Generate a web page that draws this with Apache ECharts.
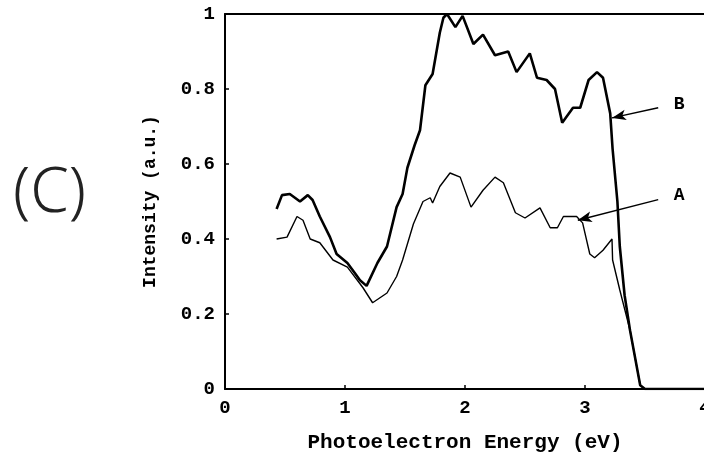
<!DOCTYPE html>
<html>
<head>
<meta charset="utf-8">
<script src="https://cdn.jsdelivr.net/npm/echarts@6/dist/echarts.min.js"></script>
<style>
  html, body { margin: 0; padding: 0; background: #fff; }
  #main { width: 704px; height: 462px; }
</style>
</head>
<body>
<div id="main"></div>
<script>
// energy (eV) / intensity pairs
var curveBx = [0.43, 0.475, 0.54, 0.625, 0.69, 0.73, 0.79, 0.875, 0.93, 1.02, 1.08, 1.125, 1.18, 1.27, 1.35, 1.43, 1.48, 1.52, 1.58, 1.625, 1.67, 1.73, 1.79, 1.82, 1.85, 1.92, 1.98, 2.07, 2.15, 2.25, 2.36, 2.43, 2.54, 2.6, 2.68, 2.75, 2.81, 2.9, 2.96, 3.03, 3.1, 3.15, 3.21, 3.23, 3.27, 3.29, 3.33, 3.375, 3.46, 3.5, 4.0]
var curveBy = [0.48, 0.517, 0.52, 0.5, 0.517, 0.504, 0.46, 0.405, 0.36, 0.336, 0.31, 0.29, 0.275, 0.336, 0.38, 0.485, 0.52, 0.59, 0.65, 0.69, 0.81, 0.84, 0.95, 0.99, 1.0, 0.965, 0.995, 0.92, 0.945, 0.89, 0.9, 0.845, 0.895, 0.83, 0.824, 0.8, 0.71, 0.75, 0.75, 0.824, 0.845, 0.83, 0.735, 0.64, 0.5, 0.38, 0.25, 0.157, 0.01, 0, 0]

var curveAx = [0.43, 0.517, 0.6, 0.65, 0.71, 0.79, 0.9, 1.02, 1.15, 1.23, 1.35, 1.43, 1.48, 1.57, 1.65, 1.71, 1.73, 1.79, 1.875, 1.96, 2.05, 2.15, 2.25, 2.32, 2.42, 2.5, 2.625, 2.71, 2.77, 2.82, 2.93, 2.98, 3.04, 3.08, 3.15, 3.225, 3.23, 3.29, 3.375, 3.46, 3.5]
var curveAy = [0.4, 0.405, 0.46, 0.45, 0.4, 0.39, 0.344, 0.325, 0.27, 0.23, 0.256, 0.3, 0.344, 0.44, 0.5, 0.51, 0.496, 0.54, 0.576, 0.565, 0.485, 0.53, 0.565, 0.55, 0.47, 0.456, 0.483, 0.43, 0.43, 0.46, 0.46, 0.443, 0.36, 0.35, 0.37, 0.4, 0.344, 0.264, 0.157, 0.01, 0]

var xTicks = [0, 1, 2, 3, 4]
var yTicks = [0, 0.2, 0.4, 0.6, 0.8, 1]

// arrow start/end points for the A and B labels
var arrowB = [[3.61, 0.75], [3.225, 0.723]]
var arrowA = [[3.61, 0.505], [2.94, 0.45]]

function pairs(xs, ys) {
  return xs.map(function (x, i) { return [x, ys[i]] })
}

var font = 'Liberation Mono'
var myChart = echarts.init(document.getElementById('main'), null, { renderer: 'canvas' })

function arrow(pts, name) {
  return {
    silent: true,
    symbol: ['none', 'arrow'],
    symbolSize: [8, 14],
    lineStyle: { color: '#000', width: 1.5, type: 'solid' },
    label: {
      show: true,
      position: 'start',
      formatter: name,
      color: '#000',
      fontFamily: font,
      fontWeight: 'bold',
      fontSize: 18,
      distance: 16
    },
    data: [[{ coord: pts[0] }, { coord: pts[1] }]]
  }
}

myChart.setOption({
  animation: false,
  backgroundColor: '#fff',
  grid: { left: 225, top: 14, width: 480, height: 375, containLabel: false, outerBoundsMode: 'none' },
  graphic: [{
    type: 'text',
    left: 13,
    top: 163,
    style: { text: '(C)', fontFamily: 'Noto Sans', fontWeight: 300, fontSize: 62, fill: '#222' }
  }],
  xAxis: [{
    type: 'value',
    min: 0,
    max: 4,
    interval: 1,
    name: 'Photoelectron Energy (eV)',
    nameLocation: 'middle',
    nameGap: 43,
    nameTextStyle: { color: '#000', fontFamily: font, fontWeight: 'bold', fontSize: 21 },
    axisLine: { lineStyle: { color: '#000', width: 2 } },
    axisTick: { inside: true, length: 4, lineStyle: { color: '#000', width: 1.5 } },
    axisLabel: {
      color: '#000', fontFamily: font, fontWeight: 'bold', fontSize: 19, margin: 10,
      formatter: function (v) { return xTicks.indexOf(v) >= 0 ? String(v) : '' }
    },
    splitLine: { show: false }
  }, {
    type: 'value',
    position: 'top',
    min: 0,
    max: 4,
    axisLine: { lineStyle: { color: '#000', width: 2 } },
    axisTick: { show: false },
    axisLabel: { show: false },
    splitLine: { show: false }
  }],
  yAxis: {
    type: 'value',
    min: 0,
    max: 1,
    interval: 0.2,
    name: 'Intensity (a.u.)',
    nameLocation: 'middle',
    nameGap: 66,
    nameTextStyle: { color: '#000', fontFamily: font, fontWeight: 'bold', fontSize: 18 },
    axisLine: { show: true, lineStyle: { color: '#000', width: 2 } },
    axisTick: { show: true, inside: true, length: 4, lineStyle: { color: '#000', width: 1.5 } },
    axisLabel: {
      color: '#000', fontFamily: font, fontWeight: 'bold', fontSize: 19, margin: 10,
      formatter: function (v) {
        var t = yTicks.filter(function (y) { return Math.abs(y - v) < 1e-6 })
        return t.length ? String(t[0]) : ''
      }
    },
    splitLine: { show: false }
  },
  series: [{
    name: 'B',
    type: 'line',
    data: pairs(curveBx, curveBy),
    showSymbol: false,
    lineStyle: { color: '#000', width: 2.6 },
    markLine: arrow(arrowB, 'B')
  }, {
    name: 'A',
    type: 'line',
    data: pairs(curveAx, curveAy),
    showSymbol: false,
    lineStyle: { color: '#000', width: 1.4 },
    markLine: arrow(arrowA, 'A')
  }]
})
</script>
</body>
</html>
